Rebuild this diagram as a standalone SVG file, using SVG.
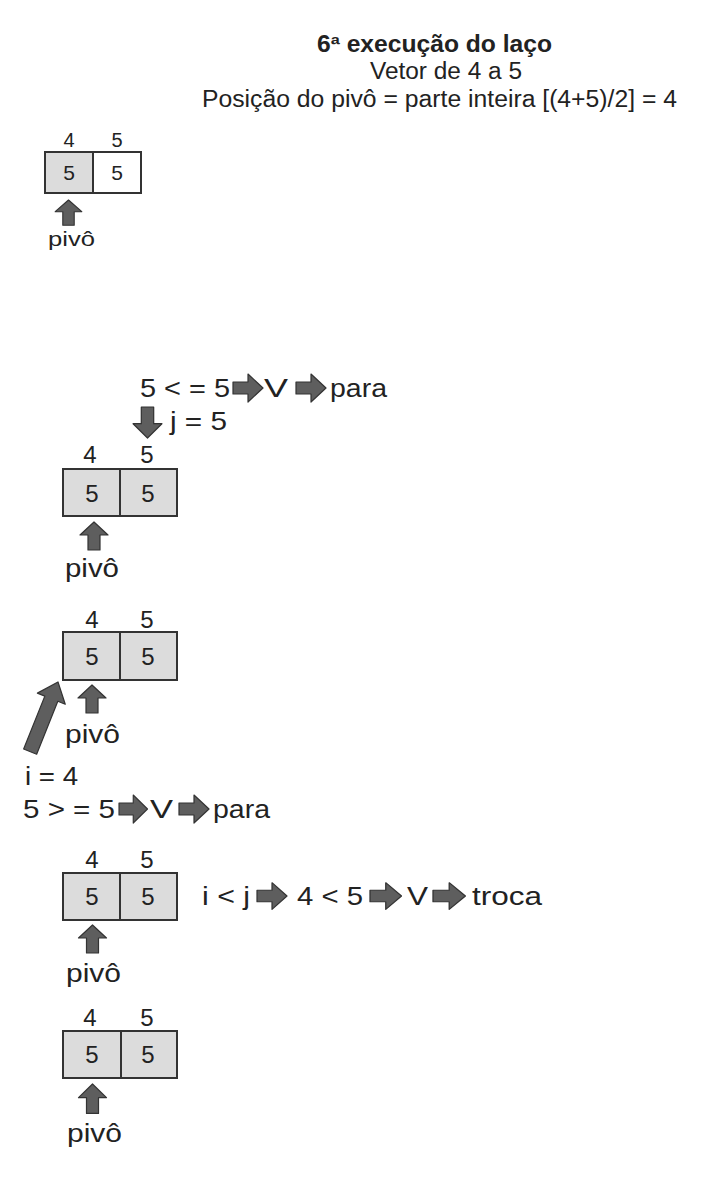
<svg xmlns="http://www.w3.org/2000/svg" xmlns:xlink="http://www.w3.org/1999/xlink" width="724" height="1178" viewBox="0 0 724 1178">
<style>
text{font-family:"Liberation Sans",Arial,sans-serif;fill:#222}
.t{font-size:23px}
.b{font-weight:bold}
.h{font-size:24px;text-anchor:middle}
.h1{font-size:20px;text-anchor:middle}
.c{font-size:24px;text-anchor:middle}
.c1{font-size:21px;text-anchor:middle}
.l{font-size:26px}
.cell{fill:#dcdcdc;stroke:#333;stroke-width:2}
.cellw{fill:#fff;stroke:#333;stroke-width:2}
.arr{fill:#5e5e5e;stroke:#333;stroke-width:1.2;stroke-linejoin:round}
</style>
<defs>
<path id="up" d="M0,0 L14,13 L6,13 L6,28 L-6,28 L-6,13 L-14,13 Z"/>
<path id="right" d="M0,-6 L15,-6 L15,-14 L30,0 L15,14 L15,6 L0,6 Z"/>
</defs>
<rect width="724" height="1178" fill="#fff"/>

<g id="title">
<text class="t b" x="317" y="52" textLength="235" lengthAdjust="spacingAndGlyphs">6ª execução do laço</text>
<text class="t" x="370" y="79" textLength="152" lengthAdjust="spacingAndGlyphs">Vetor de 4 a 5</text>
<text class="t" x="202" y="107" textLength="475" lengthAdjust="spacingAndGlyphs">Posição do pivô = parte inteira [(4+5)/2] = 4</text>
</g>

<g id="block1">
<text class="h1" x="69" y="147">4</text>
<text class="h1" x="117" y="147">5</text>
<rect class="cell" x="45" y="152" width="48" height="41"/>
<rect class="cellw" x="93" y="152" width="48" height="41"/>
<text class="c1" x="69" y="180">5</text>
<text class="c1" x="117" y="180">5</text>
<text style="font-size:21px" x="48" y="246" textLength="47" lengthAdjust="spacingAndGlyphs">pivô</text>
</g>

<g id="block2">
<text class="l" x="140" y="397" textLength="90" lengthAdjust="spacingAndGlyphs">5 &lt; = 5</text>
<text class="l" x="264" y="397" textLength="24" lengthAdjust="spacingAndGlyphs">V</text>
<text class="l" x="330" y="397" textLength="57" lengthAdjust="spacingAndGlyphs">para</text>
<text class="l" x="170" y="430" textLength="57" lengthAdjust="spacingAndGlyphs">j = 5</text>
<text class="h" x="90" y="463">4</text>
<text class="h" x="147" y="463">5</text>
<rect class="cell" x="63" y="469" width="57" height="47"/>
<rect class="cell" x="120" y="469" width="57" height="47"/>
<text class="c" x="92" y="502">5</text>
<text class="c" x="148" y="502">5</text>
<text class="l" x="65" y="577" textLength="54" lengthAdjust="spacingAndGlyphs">pivô</text>
</g>

<g id="block3">
<text class="h" x="92" y="628">4</text>
<text class="h" x="147" y="628">5</text>
<rect class="cell" x="63" y="632" width="57" height="48"/>
<rect class="cell" x="120" y="632" width="57" height="48"/>
<text class="c" x="92" y="665">5</text>
<text class="c" x="148" y="665">5</text>
<text class="l" x="65" y="743" textLength="55" lengthAdjust="spacingAndGlyphs">pivô</text>
<text class="l" x="25" y="785" textLength="53" lengthAdjust="spacingAndGlyphs">i = 4</text>
<text class="l" x="23" y="818" textLength="92" lengthAdjust="spacingAndGlyphs">5 &gt; = 5</text>
<text class="l" x="150" y="818" textLength="23" lengthAdjust="spacingAndGlyphs">V</text>
<text class="l" x="213" y="818" textLength="57" lengthAdjust="spacingAndGlyphs">para</text>
</g>

<g id="block4">
<text class="h" x="92" y="868">4</text>
<text class="h" x="147" y="868">5</text>
<rect class="cell" x="63" y="873" width="57" height="47"/>
<rect class="cell" x="120" y="873" width="57" height="47"/>
<text class="c" x="92" y="905">5</text>
<text class="c" x="148" y="905">5</text>
<text class="l" x="202" y="905" textLength="48" lengthAdjust="spacingAndGlyphs">i &lt; j</text>
<text class="l" x="297" y="905" textLength="66" lengthAdjust="spacingAndGlyphs">4 &lt; 5</text>
<text class="l" x="407" y="905" textLength="21" lengthAdjust="spacingAndGlyphs">V</text>
<text class="l" x="472" y="905" textLength="70" lengthAdjust="spacingAndGlyphs">troca</text>
<text class="l" x="66" y="982" textLength="55" lengthAdjust="spacingAndGlyphs">pivô</text>
</g>

<g id="block5">
<text class="h" x="90" y="1026">4</text>
<text class="h" x="147" y="1026">5</text>
<rect class="cell" x="63" y="1031" width="58" height="47"/>
<rect class="cell" x="121" y="1031" width="56" height="47"/>
<text class="c" x="92" y="1063">5</text>
<text class="c" x="148" y="1063">5</text>
<text class="l" x="67" y="1142" textLength="55" lengthAdjust="spacingAndGlyphs">pivô</text>
</g>

<g id="connectors">
<use href="#up" xlink:href="#up" class="arr" transform="translate(68.5,200) scale(0.95,0.9)"/>
<use href="#right" xlink:href="#right" class="arr" transform="translate(233,388)"/>
<use href="#right" xlink:href="#right" class="arr" transform="translate(296,388)"/>
<use href="#up" xlink:href="#up" class="arr" transform="translate(147.5,438) scale(1.03,-1.1)"/>
<use href="#up" xlink:href="#up" class="arr" transform="translate(94,522)"/>
<use href="#up" xlink:href="#up" class="arr" transform="translate(92,685)"/>
<path class="arr" transform="translate(58,682) rotate(21.8)" d="M0,0 L15,18 L7,18 L7,75 L-7,75 L-7,18 L-15,18 Z"/>
<use href="#right" xlink:href="#right" class="arr" transform="translate(119,809) scale(0.95,1)"/>
<use href="#right" xlink:href="#right" class="arr" transform="translate(179,809) scale(1,1)"/>
<use href="#right" xlink:href="#right" class="arr" transform="translate(257,896) scale(1,0.95)"/>
<use href="#right" xlink:href="#right" class="arr" transform="translate(370,896) scale(1.05,0.95)"/>
<use href="#right" xlink:href="#right" class="arr" transform="translate(433,896) scale(1.08,0.95)"/>
<use href="#up" xlink:href="#up" class="arr" transform="translate(92.5,925)"/>
<use href="#up" xlink:href="#up" class="arr" transform="translate(92.5,1084) scale(1,1.05)"/>
</g>
</svg>
